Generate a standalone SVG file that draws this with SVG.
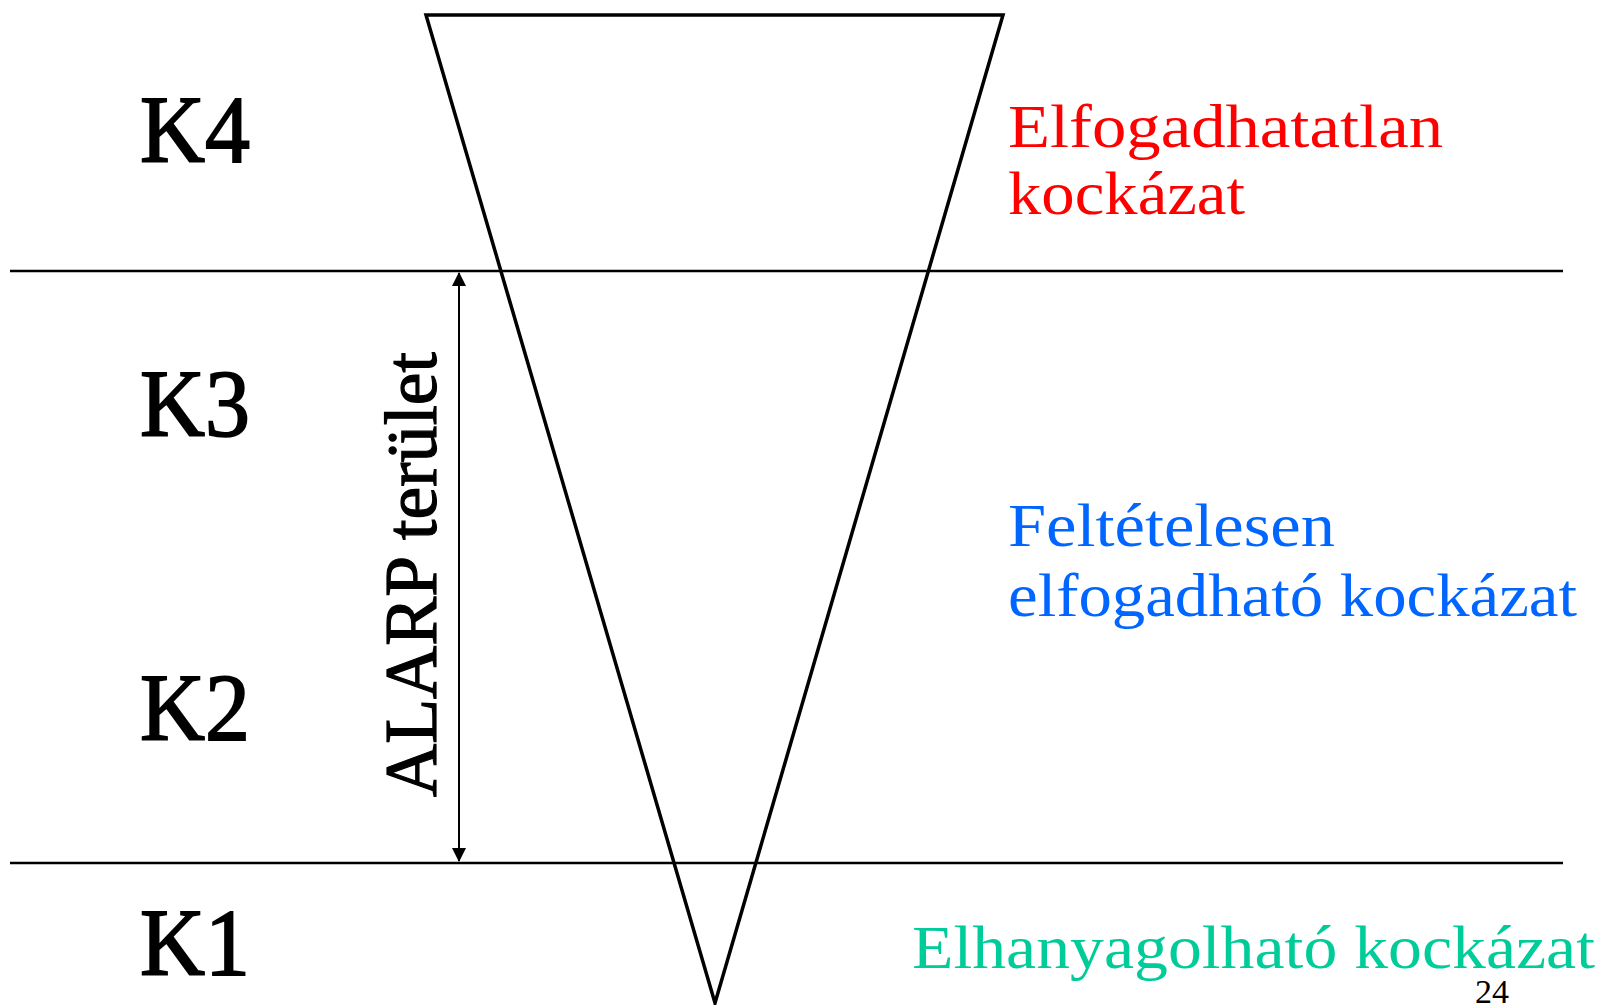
<svg xmlns="http://www.w3.org/2000/svg" width="1602" height="1005" viewBox="0 0 1602 1005">
<style>
  .k { font-family: "Liberation Serif", serif; font-size: 96px; fill: #000; stroke: #000; stroke-width: 1.8; }
  .lbl { font-family: "Liberation Serif", serif; font-size: 62px; }
  .line { stroke: #000; stroke-width: 2.5; fill: none; }
</style>
<defs>
  <marker id="ah" viewBox="0 0 14 14" refX="13" refY="7" markerWidth="14" markerHeight="14" markerUnits="userSpaceOnUse" orient="auto-start-reverse">
    <path d="M0,0 L14,7 L0,14 Z" fill="#000"/>
  </marker>
</defs>
<rect width="1602" height="1005" fill="#fff"/>
<g id="connectors">
  <line class="line" x1="10" y1="271" x2="1563" y2="271"/>
  <line class="line" x1="10" y1="863" x2="1563" y2="863"/>
  <line x1="459" y1="273" x2="459" y2="861" stroke="#000" stroke-width="2" marker-start="url(#ah)" marker-end="url(#ah)"/>
</g>
<g id="triangle">
  <path d="M426,15 L1003,15 L715,1003 Z" fill="none" stroke="#000" stroke-width="3.5" stroke-linejoin="miter"/>
</g>
<g id="k4"><text class="k" x="140" y="162" textLength="110" lengthAdjust="spacingAndGlyphs">K4</text></g>
<g id="k3"><text class="k" x="140" y="436" textLength="110" lengthAdjust="spacingAndGlyphs">K3</text></g>
<g id="k2"><text class="k" x="140" y="740" textLength="110" lengthAdjust="spacingAndGlyphs">K2</text></g>
<g id="k1"><text class="k" x="140" y="975" textLength="110" lengthAdjust="spacingAndGlyphs">K1</text></g>
<g id="alarp">
  <text transform="translate(436,797) rotate(-90)" font-family="Liberation Serif, serif" font-size="74" fill="#000" stroke="#000" stroke-width="1.2" textLength="445" lengthAdjust="spacingAndGlyphs">ALARP terület</text>
</g>
<g id="unacceptable">
  <text class="lbl" fill="#FF0000" x="1008" y="147" textLength="435" lengthAdjust="spacingAndGlyphs">Elfogadhatatlan</text>
  <text class="lbl" fill="#FF0000" x="1008" y="214" textLength="237" lengthAdjust="spacingAndGlyphs">kockázat</text>
</g>
<g id="conditional">
  <text class="lbl" fill="#0066FF" x="1008" y="546" textLength="327" lengthAdjust="spacingAndGlyphs">Feltételesen</text>
  <text class="lbl" fill="#0066FF" x="1008" y="616" textLength="569" lengthAdjust="spacingAndGlyphs">elfogadható kockázat</text>
</g>
<g id="negligible">
  <text class="lbl" fill="#00CC99" x="912" y="968" textLength="683" lengthAdjust="spacingAndGlyphs">Elhanyagolható kockázat</text>
</g>
<g id="pagenum">
  <text font-family="Liberation Serif, serif" font-size="34" fill="#000" x="1475" y="1003">24</text>
</g>
</svg>
